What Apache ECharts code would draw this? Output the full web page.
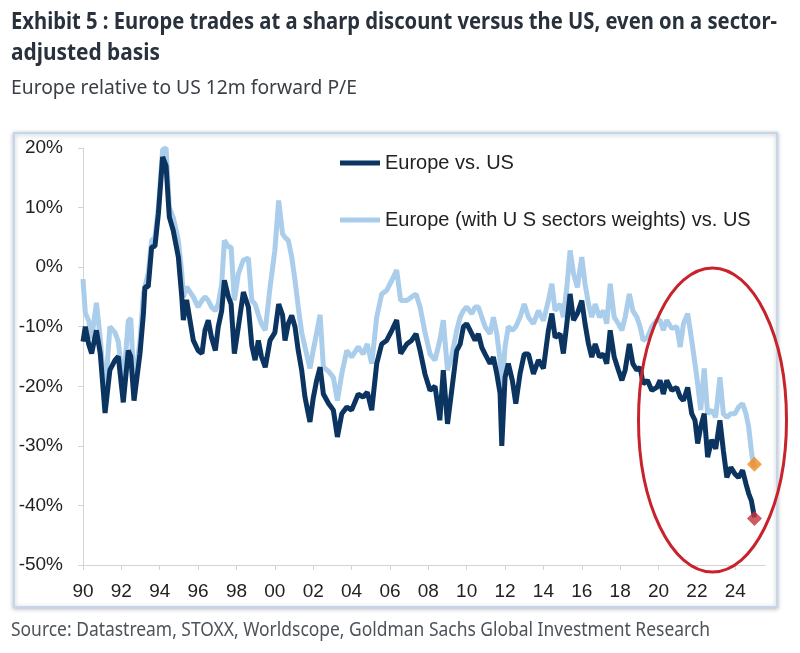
<!DOCTYPE html>
<html>
<head>
<meta charset="utf-8">
<script src="https://cdn.jsdelivr.net/npm/echarts@6/dist/echarts.min.js"></script>
<style>
html,body{margin:0;padding:0;background:#fff;}
#chart{width:800px;height:653px;}
</style>
</head>
<body>
<div id="chart"></div>
<script>
// ---- DATA ----
const titleLine1 = 'Exhibit 5 : Europe trades at a sharp discount versus the US, even on a sector-';
const titleLine2 = 'adjusted basis';
const subtitle = 'Europe relative to US 12m forward P/E';
const sourceText = 'Source: Datastream, STOXX, Worldscope, Goldman Sachs Global Investment Research';
const seriesNames = ['Europe vs. US', 'Europe (with U S sectors weights) vs. US'];
const tickYears = [1990,1992,1994,1996,1998,2000,2002,2004,2006,2008,2010,2012,2014,2016,2018,2020,2022,2024];

const dates = [
1990.00,1990.12,1990.30,1990.45,1990.70,1990.90,1991.15,1991.40,1991.67,1991.84,
1992.10,1992.36,1992.49,1992.66,1992.97,1993.15,1993.23,1993.40,1993.58,1993.75,
1993.93,1994.15,1994.33,1994.50,1994.70,1994.97,1995.15,1995.23,1995.40,1995.75,
1996.00,1996.20,1996.36,1996.53,1996.70,1996.90,1997.05,1997.23,1997.37,1997.58,
1997.72,1997.89,1998.10,1998.36,1998.62,1998.80,1998.97,1999.14,1999.30,1999.50,
1999.75,2000.00,2000.20,2000.40,2000.53,2000.70,2000.88,2001.05,2001.22,2001.40,
2001.57,2001.83,2002.00,2002.18,2002.36,2002.53,2002.80,2003.05,2003.26,2003.49,
2003.75,2004.00,2004.35,2004.60,2004.82,2005.05,2005.31,2005.57,2005.83,2006.10,
2006.35,2006.56,2006.88,2007.13,2007.36,2007.57,2007.83,2008.09,2008.35,2008.60,
2008.78,2009.00,2009.22,2009.48,2009.66,2009.83,2010.00,2010.27,2010.44,2010.61,
2010.79,2010.96,2011.22,2011.39,2011.57,2011.74,2011.83,2012.00,2012.17,2012.38,
2012.56,2012.78,2013.00,2013.22,2013.48,2013.74,2014.00,2014.26,2014.44,2014.61,
2014.87,2015.04,2015.22,2015.39,2015.57,2015.77,2016.00,2016.17,2016.35,2016.52,
2016.70,2016.92,2017.13,2017.30,2017.48,2017.69,2017.91,2018.09,2018.26,2018.48,
2018.66,2018.87,2019.04,2019.20,2019.42,2019.65,2019.91,2020.08,2020.25,2020.43,
2020.69,2020.95,2021.13,2021.30,2021.52,2021.73,2021.90,2022.04,2022.20,2022.38,
2022.56,2022.77,2022.98,2023.20,2023.38,2023.56,2023.77,2023.98,2024.17,2024.38,
2024.56,2024.70,2024.84,2024.96,2025.00
];

const europeVsUS = [
-12.5,-10,-13,-14.5,-10.6,-14.5,-24.5,-17.3,-15.6,-15,
-22.7,-14,-15,-22.4,-14.5,-7.8,-3.3,-3.3,3.4,3.5,
9,18.5,17,8.4,6.2,1.7,-5,-8.9,-5.5,-12.3,
-14,-14.5,-10.6,-8.9,-11.8,-14,-10,-7.3,-2.2,-5,
-6.2,-14.5,-10,-4.2,-6.7,-13.2,-15.6,-12.3,-15,-16.8,
-12.3,-11,-6.2,-8,-12.3,-9.5,-8.1,-10,-14,-17.3,
-21.8,-26,-22,-19,-16.8,-21.3,-22.9,-24,-28.5,-24.6,
-23.5,-24,-21.3,-21.8,-21,-24,-16.2,-12.9,-12.3,-10.6,
-8.9,-14.5,-12.9,-12.3,-11.2,-14,-18,-20.7,-20,-25.7,
-17.3,-26.3,-20.7,-14,-12.9,-10,-9.5,-11.2,-12.3,-11.2,
-13.5,-14.6,-16.2,-15.1,-17.9,-21.2,-30,-18.5,-16.2,-19,
-22.9,-17.9,-14.6,-14.6,-17.9,-15.6,-17,-10.6,-7.8,-11.8,
-11.2,-14.5,-9.5,-4.5,-8.9,-7.8,-5.6,-9.5,-12.9,-15.1,
-12.9,-15.1,-14.6,-16.2,-10.6,-15.1,-17.3,-19,-17.3,-12.9,
-16.2,-17.3,-16.8,-19.6,-19,-20.7,-20.2,-19,-21.3,-19,
-20.7,-20.2,-21.8,-22.4,-20.2,-24.6,-25.7,-29.6,-26.8,-24.6,
-31.9,-29,-30.5,-25.7,-30.8,-35.3,-33.6,-34.7,-35.3,-34.1,
-36.4,-38,-39.2,-41.3,-42
];

const europeAdjVsUS = [
-2,-7.7,-9,-12,-6,-12,-21.8,-10,-11,-12.5,
-20,-9,-8.6,-20,-12.5,-4.4,-3.3,-1,4.5,5,
10,19.7,20,10,8.4,4.5,-1,-5,-3.3,-5,
-6.7,-5.6,-5,-5.6,-6.7,-7.3,-6.2,-2.8,4.5,3.4,
3.4,-5.6,-1.1,1.2,1.5,-5.6,-6.2,-8,-9.5,-10.6,
-3.4,2.8,11.2,5.6,5,4.5,1.7,-2.2,-6.7,-11,
-13.4,-17,-14,-11,-8,-16.8,-17.5,-18.5,-22.4,-17.9,
-14,-15.1,-13.4,-14.6,-12.9,-16.2,-8.4,-4.5,-3.9,-2.2,
-0.5,-5.6,-5.6,-5,-4.5,-6.7,-11,-14.6,-15.6,-12.3,
-8.9,-17.3,-15,-10.6,-8.4,-7.3,-6.7,-7.8,-6.7,-6.7,
-8.4,-10,-11.2,-8.4,-11.2,-15.6,-20.7,-13.4,-10,-10.6,
-10,-8.4,-6.2,-8.4,-9.5,-7.3,-9,-5.6,-2.8,-7.3,
-6.2,-8.4,-3.4,2.8,-1.1,-3.4,1.7,-2.8,-6.2,-8.4,
-6.2,-8.4,-7.3,-9.5,-2.8,-8.4,-9.5,-10.6,-8.4,-4.5,
-7.3,-8.4,-10,-12.3,-11.8,-10,-8.9,-8.9,-10.6,-8.9,
-10.3,-10,-13.4,-9.5,-7.8,-12.3,-16.2,-19.6,-24,-17,
-24.6,-24,-25.2,-18.5,-24.6,-25.2,-24.6,-24.6,-23.5,-22.9,
-24.6,-26.9,-30.8,-33.6,-33
];

const latestDate = 2025.0;
const latestEuropeVsUS = -42.2;
const latestEuropeAdj = -33.1;

// ---- CHART ----
const chart = echarts.init(document.getElementById('chart'), null, {renderer:'canvas'});
const pair = (xs, ys) => xs.map((x,i)=>[x, ys[i]]);
const labelFont = '"Liberation Sans", Arial, sans-serif';
const condFont = '"Noto Sans", "Open Sans", sans-serif';

// fit a text to a target width with a horizontal scale (condensed look)
const mctx = document.createElement('canvas').getContext('2d');
function fitText(text, font, x, y, targetWidth, fill) {
  mctx.font = font;
  const w = mctx.measureText(text).width;
  return {type:'text', x:x, y:y, scaleX: targetWidth / w, scaleY:1,
    style:{text:text, font:font, fill:fill, verticalAlign:'middle', align:'left'}};
}

const xMin = 1990, xMax = 2025.55;

chart.setOption({
  animation:false,
  backgroundColor:'#ffffff',
  grid:{left:83, right:35, top:148, bottom:88, containLabel:false},
  legend:{
    show:true, orient:'vertical', left:340, top:152, padding:0,
    itemWidth:40, itemHeight:5, itemGap:35, icon:'rect',
    data:seriesNames,
    textStyle:{fontFamily:labelFont, fontSize:20, color:'#222', lineHeight:22}
  },
  xAxis:[
    {type:'value', min:xMin, max:xMax, position:'bottom',
     axisLine:{show:false}, axisTick:{show:false}, splitLine:{show:false},
     axisLabel:{customValues:tickYears, margin:17, fontFamily:labelFont, fontSize:19, color:'#222',
       formatter:v=>String(Math.round(v)%100).padStart(2,'0')}},
    {type:'value', min:xMin, max:xMax, position:'bottom',
     axisLine:{show:true, onZero:true, lineStyle:{color:'#d4d4d4', width:1}},
     axisTick:{show:true, customValues:tickYears, length:5, lineStyle:{color:'#d4d4d4'}},
     axisLabel:{show:false}, splitLine:{show:false}}
  ],
  yAxis:{type:'value', min:-50, max:20, interval:10,
    axisLine:{show:true, lineStyle:{color:'#d4d4d4', width:1}},
    axisTick:{show:true, length:5, lineStyle:{color:'#d4d4d4'}},
    splitLine:{show:false},
    axisLabel:{margin:20, fontFamily:labelFont, fontSize:19, color:'#222', formatter:'{value}%'}},
  series:[
    {name:seriesNames[1], type:'line', xAxisIndex:0, data:pair(dates, europeAdjVsUS),
     showSymbol:false, symbol:'none', lineStyle:{color:'#a9cdea', width:5}, itemStyle:{color:'#a9cdea'}, z:2},
    {name:seriesNames[0], type:'line', xAxisIndex:0, data:pair(dates, europeVsUS),
     showSymbol:false, symbol:'none', lineStyle:{color:'#0c3461', width:5}, itemStyle:{color:'#0c3461'}, z:3},
    {name:'latestAdj', type:'scatter', xAxisIndex:0, data:[[latestDate, latestEuropeAdj]],
     symbol:'diamond', symbolSize:[15,15], itemStyle:{color:'#f28a22'}, z:5},
    {name:'latest', type:'scatter', xAxisIndex:0, data:[[latestDate, latestEuropeVsUS]],
     symbol:'diamond', symbolSize:[15,15], itemStyle:{color:'#c1323b'}, z:5}
  ],
  graphic:[
    {type:'rect', z:-10, shape:{x:14, y:133, width:763, height:474},
     style:{fill:'#ffffff', stroke:'#c6d6e6', lineWidth:2, shadowBlur:4, shadowColor:'rgba(60,80,110,0.35)', shadowOffsetY:1}},
    fitText(titleLine1, 'bold 24px '+condFont, 11, 22, 766, '#28313c'),
    fitText(titleLine2, 'bold 24px '+condFont, 11, 53, 149, '#28313c'),
    fitText(subtitle, '19px '+condFont, 11, 89, 346, '#3a3f46'),
    fitText(sourceText, '19px '+condFont, 11, 631, 699, '#4d535b'),
    {type:'ellipse', z:100, shape:{cx:712.5, cy:420, rx:74, ry:152},
     style:{fill:'none', stroke:'#c8232c', lineWidth:3}}
  ]
});
</script>
</body>
</html>
